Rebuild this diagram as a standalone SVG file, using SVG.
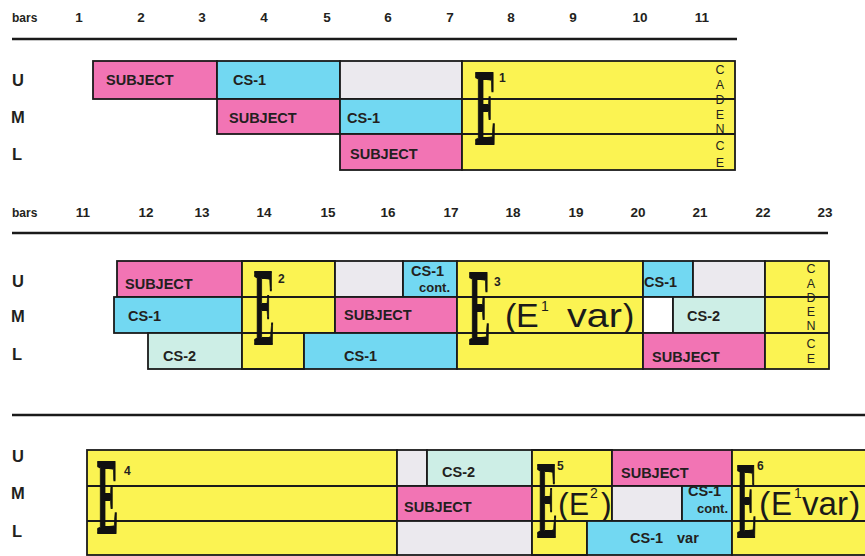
<svg xmlns="http://www.w3.org/2000/svg" width="865" height="556" viewBox="0 0 865 556">
<style>
.b{stroke:#1a1a1a;stroke-width:1.8}
.pk{fill:#f274b4}
.cy{fill:#72d8f2}
.ye{fill:#fbf352}
.gr{fill:#ebe9ee}
.mt{fill:#cdeee6}
.wh{fill:#ffffff}
.ln{stroke:#1a1a1a;stroke-width:1.8;fill:none}
.rule{stroke:#1a1a1a;stroke-width:2.5}
.t{font-family:"Liberation Sans",Arial,sans-serif;font-weight:bold;font-size:14.5px;fill:#231f20}
.c{font-family:"Liberation Sans",Arial,sans-serif;font-weight:bold;font-size:13px;fill:#231f20}
.sup{font-family:"Liberation Sans",Arial,sans-serif;font-weight:bold;font-size:12px;fill:#231f20}
.cad{font-family:"Liberation Sans",Arial,sans-serif;font-size:12.5px;fill:#231f20;text-anchor:middle}
.hdr{font-family:"Liberation Sans",Arial,sans-serif;font-weight:bold;font-size:13.5px;fill:#231f20;text-anchor:middle}
.bars{font-family:"Liberation Sans",Arial,sans-serif;font-weight:bold;font-size:12px;fill:#231f20}
.rl{font-family:"Liberation Sans",Arial,sans-serif;font-weight:bold;font-size:16.5px;fill:#231f20}
.big{font-family:"Liberation Sans",Arial,sans-serif;font-size:34px;fill:#1a1a1a}
.big2{font-family:"Liberation Sans",Arial,sans-serif;font-size:32px;fill:#1a1a1a}
.bsup{font-family:"Liberation Sans",Arial,sans-serif;font-size:14px;fill:#1a1a1a}
.E{font-family:"Liberation Serif","Times New Roman",serif;font-weight:bold;font-size:109px;fill:#111111;stroke:#111111;stroke-width:1.6px;vector-effect:non-scaling-stroke}
</style>

<g id="rules">
<line class="rule" x1="12" y1="39" x2="737" y2="39"/>
<line class="rule" x1="12" y1="233" x2="828" y2="233"/>
<line class="rule" x1="12" y1="415" x2="865" y2="415"/>
</g>

<g id="header-top">
<text class="bars" x="12" y="22">bars</text>
<text class="hdr" x="79" y="22">1</text>
<text class="hdr" x="141" y="22">2</text>
<text class="hdr" x="202" y="22">3</text>
<text class="hdr" x="264" y="22">4</text>
<text class="hdr" x="327" y="22">5</text>
<text class="hdr" x="388" y="22">6</text>
<text class="hdr" x="450" y="22">7</text>
<text class="hdr" x="511" y="22">8</text>
<text class="hdr" x="573" y="22">9</text>
<text class="hdr" x="640" y="22">10</text>
<text class="hdr" x="702" y="22">11</text>
</g>
<g id="header-mid">
<text class="bars" x="12" y="217">bars</text>
<text class="hdr" x="83" y="217">11</text>
<text class="hdr" x="146" y="217">12</text>
<text class="hdr" x="202" y="217">13</text>
<text class="hdr" x="264" y="217">14</text>
<text class="hdr" x="328" y="217">15</text>
<text class="hdr" x="388" y="217">16</text>
<text class="hdr" x="451" y="217">17</text>
<text class="hdr" x="513" y="217">18</text>
<text class="hdr" x="576" y="217">19</text>
<text class="hdr" x="638" y="217">20</text>
<text class="hdr" x="700" y="217">21</text>
<text class="hdr" x="763" y="217">22</text>
<text class="hdr" x="825" y="217">23</text>
</g>

<g id="row-labels">
<text class="rl" x="12" y="86">U</text>
<text class="rl" x="11" y="123">M</text>
<text class="rl" x="12" y="160">L</text>
<text class="rl" x="12" y="287">U</text>
<text class="rl" x="11" y="322">M</text>
<text class="rl" x="12" y="360">L</text>
<text class="rl" x="12" y="462">U</text>
<text class="rl" x="11" y="499">M</text>
<text class="rl" x="12" y="537">L</text>
</g>

<!-- TOP SECTION -->
<g id="top-U-subject"><rect class="b pk" x="93" y="61" width="124" height="38"/><text class="t" x="106" y="85">SUBJECT</text></g>
<g id="top-U-cs1"><rect class="b cy" x="217" y="61" width="123" height="38"/><text class="t" x="233" y="85">CS-1</text></g>
<g id="top-U-free"><rect class="b gr" x="340" y="61" width="122" height="38"/></g>
<g id="top-M-subject"><rect class="b pk" x="217" y="99" width="123" height="35"/><text class="t" x="229" y="123">SUBJECT</text></g>
<g id="top-M-cs1"><rect class="b cy" x="340" y="99" width="122" height="35"/><text class="t" x="347" y="123">CS-1</text></g>
<g id="top-L-subject"><rect class="b pk" x="340" y="134" width="122" height="36"/><text class="t" x="350" y="159">SUBJECT</text></g>
<g id="top-E1">
<rect class="b ye" x="462" y="61" width="273" height="109"/>
<line class="ln" x1="462" y1="99" x2="735" y2="99"/>
<line class="ln" x1="462" y1="134" x2="735" y2="134"/>
<text class="E" transform="translate(475,144) scale(0.29,1)">E</text>
<text class="sup" x="499" y="82">1</text>
<text class="cad" x="720" y="74">C</text>
<text class="cad" x="720" y="89">A</text>
<text class="cad" x="720" y="104">D</text>
<text class="cad" x="720" y="119">E</text>
<text class="cad" x="720" y="133">N</text>
<text class="cad" x="720" y="150">C</text>
<text class="cad" x="720" y="167">E</text>
</g>

<!-- MIDDLE SECTION -->
<g id="mid-U-subject"><rect class="b pk" x="117" y="261" width="125" height="36"/><text class="t" x="125" y="289">SUBJECT</text></g>
<g id="mid-M-cs1"><rect class="b cy" x="114" y="297" width="128" height="36"/><text class="t" x="128" y="321">CS-1</text></g>
<g id="mid-L-cs2"><rect class="b mt" x="148" y="333" width="94" height="36"/><text class="t" x="163" y="361">CS-2</text></g>
<g id="mid-E2">
<polygon class="b ye" points="242,261 335,261 335,333 304,333 304,369 242,369"/>
<line class="ln" x1="242" y1="297" x2="335" y2="297"/>
<line class="ln" x1="242" y1="333" x2="304" y2="333"/>
<text class="E" transform="translate(254,344) scale(0.28,1)">E</text>
<text class="sup" x="278" y="283">2</text>
</g>
<g id="mid-U-free1"><rect class="b gr" x="335" y="261" width="68" height="36"/></g>
<g id="mid-U-cs1cont"><rect class="b cy" x="403" y="261" width="54" height="36"/><text class="t" x="411" y="276">CS-1</text><text class="c" x="419" y="292">cont.</text></g>
<g id="mid-M-subject"><rect class="b pk" x="335" y="297" width="122" height="36"/><text class="t" x="344" y="320">SUBJECT</text></g>
<g id="mid-L-cs1"><rect class="b cy" x="304" y="333" width="153" height="36"/><text class="t" x="344" y="361">CS-1</text></g>
<g id="mid-E3">
<rect class="b ye" x="457" y="261" width="186" height="108"/>
<line class="ln" x1="457" y1="297" x2="643" y2="297"/>
<line class="ln" x1="457" y1="333" x2="643" y2="333"/>
<text class="E" transform="translate(469,344) scale(0.29,1)">E</text>
<text class="sup" x="494" y="286">3</text>
<text class="big" x="505" y="327">(</text>
<text class="big" x="516" y="327">E</text>
<text class="bsup" x="541" y="311">1</text>
<text class="big" x="567" y="327" textLength="55" lengthAdjust="spacingAndGlyphs">var</text>
<text class="big" x="623" y="327">)</text>
</g>
<g id="mid-U-cs1"><rect class="b cy" x="643" y="261" width="50" height="36"/><text class="t" x="644" y="287">CS-1</text></g>
<g id="mid-U-free2"><rect class="b gr" x="693" y="261" width="72" height="36"/></g>
<g id="mid-M-rest"><rect class="b wh" x="643" y="297" width="30" height="36"/></g>
<g id="mid-M-cs2"><rect class="b mt" x="673" y="297" width="92" height="36"/><text class="t" x="687" y="321">CS-2</text></g>
<g id="mid-L-subject"><rect class="b pk" x="643" y="333" width="122" height="36"/><text class="t" x="652" y="362">SUBJECT</text></g>
<g id="mid-cadence">
<rect class="b ye" x="765" y="261" width="64" height="108"/>
<line class="ln" x1="765" y1="297" x2="829" y2="297"/>
<line class="ln" x1="765" y1="333" x2="829" y2="333"/>
<text class="cad" x="811" y="273">C</text>
<text class="cad" x="811" y="288">A</text>
<text class="cad" x="811" y="302">D</text>
<text class="cad" x="811" y="316">E</text>
<text class="cad" x="811" y="330">N</text>
<text class="cad" x="811" y="348">C</text>
<text class="cad" x="811" y="363">E</text>
</g>

<!-- BOTTOM SECTION -->
<g id="bot-E4">
<rect class="b ye" x="87" y="450" width="310" height="105"/>
<line class="ln" x1="87" y1="486" x2="397" y2="486"/>
<line class="ln" x1="87" y1="521" x2="397" y2="521"/>
<text class="E" transform="translate(97,533) scale(0.29,1)">E</text>
<text class="sup" x="124" y="475">4</text>
</g>
<g id="bot-U-free"><rect class="b gr" x="397" y="450" width="30" height="36"/></g>
<g id="bot-U-cs2"><rect class="b mt" x="427" y="450" width="105" height="36"/><text class="t" x="442" y="477">CS-2</text></g>
<g id="bot-M-subject"><rect class="b pk" x="397" y="486" width="135" height="35"/><text class="t" x="404" y="512">SUBJECT</text></g>
<g id="bot-L-free"><rect class="b gr" x="397" y="521" width="135" height="34"/></g>
<g id="bot-E5">
<polygon class="b ye" points="532,450 612,450 612,521 587,521 587,555 532,555"/>
<line class="ln" x1="532" y1="486" x2="612" y2="486"/>
<line class="ln" x1="532" y1="521" x2="587" y2="521"/>
<text class="E" transform="translate(537,537) scale(0.28,1)">E</text>
<text class="sup" x="557" y="470">5</text>
<text class="big2" x="558" y="515">(</text>
<text class="big2" x="569" y="515" textLength="20" lengthAdjust="spacingAndGlyphs">E</text>
<text class="bsup" x="590" y="498">2</text>
<text class="big2" x="601" y="515">)</text>
</g>
<g id="bot-U-subject"><rect class="b pk" x="612" y="450" width="120" height="36"/><text class="t" x="621" y="478">SUBJECT</text></g>
<g id="bot-M-free"><rect class="b gr" x="612" y="486" width="70" height="35"/></g>
<g id="bot-M-cs1cont"><rect class="b cy" x="682" y="486" width="50" height="35"/><text class="t" x="688" y="496">CS-1</text><text class="c" x="697" y="513">cont.</text></g>
<g id="bot-L-cs1var"><rect class="b cy" x="587" y="521" width="145" height="34"/><text class="t" x="630" y="543">CS-1</text><text class="t" x="677" y="543">var</text></g>
<g id="bot-E6">
<rect class="b ye" x="732" y="450" width="140" height="105"/>
<line class="ln" x1="732" y1="486" x2="865" y2="486"/>
<line class="ln" x1="732" y1="521" x2="865" y2="521"/>
<text class="E" transform="translate(737,537) scale(0.27,1)">E</text>
<text class="sup" x="757" y="470">6</text>
<text class="big" x="759" y="515">(</text>
<text class="big" x="771" y="515" textLength="21" lengthAdjust="spacingAndGlyphs">E</text>
<text class="bsup" x="794" y="498">1</text>
<text class="big" x="802" y="515" textLength="46" lengthAdjust="spacingAndGlyphs">var</text>
<text class="big" x="849" y="515">)</text>
</g>
</svg>
